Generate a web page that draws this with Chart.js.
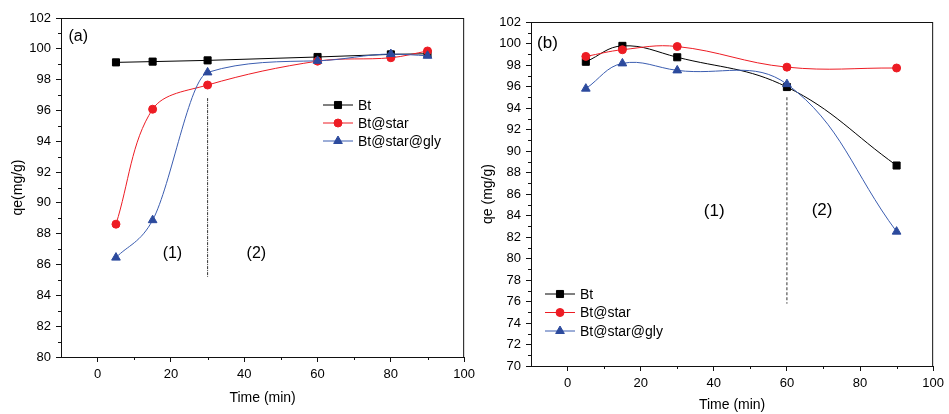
<!DOCTYPE html>
<html>
<head>
<meta charset="utf-8">
<script src="https://cdn.jsdelivr.net/npm/chart.js@4.4.1/dist/chart.umd.min.js"></script>
<style>
  body { margin: 0; background: #fff; }
  #wrapA { position: absolute; left: 0; top: 0; width: 480px; height: 414px; }
  #wrapB { position: absolute; left: 480px; top: 0; width: 469px; height: 414px; }
</style>
</head>
<body>
<div id="wrapA"><canvas id="chartA"></canvas></div>
<div id="wrapB"><canvas id="chartB"></canvas></div>
<script>
// panel (a)
const timeA = [5, 15, 30, 60, 80, 90];
const btA = [99.12, 99.17, 99.25, 99.47, 99.64, 99.68];
const starA = [88.62, 96.08, 97.65, 99.2, 99.42, 99.86];
const glyA = [86.45, 88.88, 98.47, 99.22, 99.66, 99.55];
const dividerA = { x: 30, from: 96.8, to: 85.2 };

// panel (b)
const timeB = [5, 15, 30, 60, 90];
const btB = [98.3, 99.78, 98.72, 95.95, 88.65];
const starB = [98.8, 99.42, 99.72, 97.8, 97.72];
const glyB = [95.8, 98.15, 97.5, 96.22, 82.5];
const dividerB = { x: 60, from: 95.0, to: 75.8 };

const seriesNames = ["Bt", "Bt@star", "Bt@star@gly"];

const FONT = "'Liberation Sans', Arial, sans-serif";
const BLACK = "#000000";
const RED = "#ed1c24";
const BLUE = "#2c4a9d";
const BLUE_LINE = "#3b5db0";

function pts(xs, ys) {
  return xs.map((x, i) => ({ x: x, y: ys[i] }));
}

// frame, minor ticks, text labels and legend
const decorPlugin = {
  id: "decor",
  afterDraw(chart, args, opts) {
    const ctx = chart.ctx;
    const a = chart.chartArea;
    const xs = chart.scales.x;
    const ys = chart.scales.y;
    ctx.save();
    ctx.strokeStyle = "#111";
    ctx.lineWidth = 1;
    ctx.strokeRect(a.left + 0.5, a.top + 0.5, a.right - a.left - 1, a.bottom - a.top);

    // minor ticks
    ctx.beginPath();
    for (let v = ys.min + 1; v < ys.max; v += 2) {
      const p = Math.round(ys.getPixelForValue(v)) + 0.5;
      ctx.moveTo(a.left, p);
      ctx.lineTo(a.left - 3, p);
    }
    for (let v = xs.min + 20; v < xs.max; v += 20) {
      const p = Math.round(xs.getPixelForValue(v)) + 0.5;
      ctx.moveTo(p, a.bottom);
      ctx.lineTo(p, a.bottom + 3);
    }
    ctx.stroke();

    // region labels
    ctx.fillStyle = "#000";
    ctx.textAlign = "center";
    ctx.textBaseline = "middle";
    ctx.font = opts.labelSize + "px " + FONT;
    opts.labels.forEach((l) => {
      ctx.fillText(l.text, xs.getPixelForValue(l.x), ys.getPixelForValue(l.y));
    });

    // legend
    const lg = opts.legend;
    ctx.font = "14px " + FONT;
    ctx.textAlign = "left";
    chart.data.datasets.slice(0, 3).forEach((ds, i) => {
      const y = lg.y + i * lg.gap;
      ctx.strokeStyle = ds.borderColor;
      ctx.lineWidth = 1;
      ctx.beginPath();
      ctx.moveTo(lg.x, y);
      ctx.lineTo(lg.x + 30, y);
      ctx.stroke();
      ctx.fillStyle = ds.pointBackgroundColor;
      ctx.strokeStyle = ds.pointBackgroundColor;
      Chart.helpers.drawPoint(ctx, { pointStyle: ds.pointStyle, radius: ds.pointRadius, borderWidth: 1 }, lg.x + 15, y);
      ctx.fillStyle = "#000";
      ctx.fillText(seriesNames[i], lg.x + 35, y + 1);
    });
    ctx.restore();
  }
};

function makeChart(id, p) {
  const ds = [
    { data: pts(p.time, p.bt), color: BLACK, line: BLACK, style: "rect", r: 5, tension: p.tensions[0], mode: "default" },
    { data: pts(p.time, p.star), color: RED, line: RED, style: "circle", r: 4, tension: p.tensions[1], mode: "default" },
    { data: pts(p.time, p.gly), color: BLUE, line: BLUE_LINE, style: "triangle", r: 5, tension: p.tensions[2], mode: p.glyMode }
  ].map((s, i) => ({
    label: seriesNames[i],
    data: s.data,
    borderColor: s.line,
    borderWidth: 1,
    pointStyle: s.style,
    pointRadius: s.r,
    pointBackgroundColor: s.color,
    pointBorderColor: s.color,
    tension: s.tension,
    cubicInterpolationMode: s.mode,
    order: 2 - i
  }));
  ds.push({
    label: "divider",
    data: [{ x: p.divider.x, y: p.divider.from }, { x: p.divider.x, y: p.divider.to }],
    borderColor: "#333",
    borderWidth: 1,
    borderDash: p.dash,
    pointRadius: 0,
    order: 5
  });

  return new Chart(document.getElementById(id), {
    type: "line",
    data: { datasets: ds },
    options: {
      responsive: true,
      maintainAspectRatio: false,
      animation: false,
      events: [],
      layout: { padding: p.padding },
      plugins: {
        legend: { display: false },
        tooltip: { enabled: false },
        decor: { labels: p.labels, labelSize: p.labelSize, legend: p.legend }
      },
      scales: {
        x: {
          type: "linear",
          min: -10,
          max: 100,
          afterFit: (s) => { s.height = p.xHeight; },
          grid: { drawOnChartArea: false, tickLength: 5, tickColor: "#111" },
          border: { color: "#111" },
          ticks: {
            stepSize: 20,
            includeBounds: false,
            padding: 5,
            color: "#000",
            font: { family: FONT, size: 13 }
          },
          title: {
            display: true,
            text: "Time (min)",
            color: "#000",
            font: { family: FONT, size: 14 },
            padding: { top: 0, bottom: p.xTitlePad }
          }
        },
        y: {
          min: p.yMin,
          max: 102,
          afterFit: (s) => { s.width = p.yWidth; },
          grid: { drawOnChartArea: false, tickLength: 5, tickColor: "#111" },
          border: { color: "#111" },
          ticks: {
            stepSize: 2,
            padding: 5,
            color: "#000",
            font: { family: FONT, size: 13 }
          },
          title: {
            display: true,
            text: p.yTitle,
            color: "#000",
            font: { family: FONT, size: 14 },
            padding: { top: p.yTitlePad, bottom: 0 }
          }
        }
      }
    },
    plugins: [decorPlugin]
  });
}

makeChart("chartA", {
  time: timeA, bt: btA, star: starA, gly: glyA,
  tensions: [0, 0.35, 0.4],
  glyMode: "monotone",
  divider: dividerA,
  dash: [3, 1, 1, 1],
  yMin: 80,
  yTitle: "qe(mg/g)",
  yTitlePad: 10,
  yWidth: 61,
  xHeight: 57,
  xTitlePad: 7,
  padding: { top: 18, right: 13, bottom: 0, left: 0 },
  labelSize: 16,
  labels: [
    { text: "(a)", x: -5.3, y: 100.8 },
    { text: "(1)", x: 20.4, y: 86.74 },
    { text: "(2)", x: 43.3, y: 86.74 }
  ],
  legend: { x: 323, y: 105, gap: 18 }
});

makeChart("chartB", {
  time: timeB, bt: btB, star: starB, gly: glyB,
  tensions: [0.4, 0.4, 0.4],
  glyMode: "default",
  divider: dividerB,
  dash: [3, 2],
  yMin: 70,
  yTitle: "qe (mg/g)",
  yTitlePad: 0,
  yWidth: 51,
  xHeight: 48,
  xTitlePad: 0,
  padding: { top: 22, right: 11, bottom: 0, left: 0 },
  labelSize: 17,
  labels: [
    { text: "(b)", x: -5.5, y: 100.0 },
    { text: "(1)", x: 40.1, y: 84.35 },
    { text: "(2)", x: 69.6, y: 84.5 }
  ],
  legend: { x: 65, y: 294, gap: 18.5 }
});
</script>
</body>
</html>
